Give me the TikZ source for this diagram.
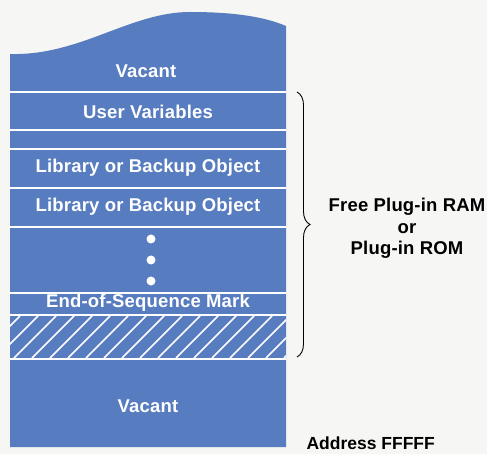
\documentclass[tikz,border=0pt]{standalone}
\usepackage{fontspec}
\setmainfont{Liberation Sans}
\usetikzlibrary{positioning,decorations.pathreplacing}
\definecolor{memblue}{RGB}{88,124,192}
\definecolor{paper}{RGB}{246,246,244}

\begin{document}
\begin{tikzpicture}[x=1pt,y=-1pt,node distance=21.5pt,on grid,
  cell/.style={text=white,font=\bfseries\fontsize{18.5}{22}\selectfont\addfontfeatures{LetterSpace=1}},
  side/.style={text=black,font=\bfseries\fontsize{18.5}{22}\selectfont\addfontfeatures{LetterSpace=1}},
  sep/.style={white,line width=1.8pt}]
\fill[paper] (0,0) rectangle (487,454);
\useasboundingbox (0,0) rectangle (487,454);
% the memory block with its wavy top
\fill[memblue] (10,54) .. controls (80,56) and (130,12) .. (190,12)
  .. controls (235,12) and (265,17) .. (286,26) -- (286,447) -- (10,447) -- cycle;
\begin{scope}
  \clip (10,316) rectangle (286,358);
  \foreach \x in {-40,-22,...,300}
    \draw[sep,line width=1.5pt] (\x,358) -- (\x+42,316);
\end{scope}
\foreach \y in {92,130,149,188,227,293,315,359}
  \draw[sep] (10,\y) -- (286,\y);
\node[cell] (vac_top) at (146,71) {Vacant};
\node[cell] (uservars) at (148,112) {User Variables};
\node[cell] (lib_a) at (148,168) {Library or Backup Object};
\node[cell] (lib_b) at (148,207) {Library or Backup Object};
\foreach \y in {239,260,281}
  \fill[white] (151,\y) circle (4.5pt);
\node[cell] (eos) at (148,303) {End-of-Sequence Mark};
\node[cell] (vac_bot) at (148,406) {Vacant};
% brace and its label
\coordinate (b_top) at (297,92);
\coordinate (b_bot) at (297,357);
\draw[decorate,decoration={brace,amplitude=13pt},line width=0.9pt] (b_top) -- (b_bot);
\node[side] (ram) at (407,207) {Free Plug-in RAM};
\node[side] (or) [below=of ram] {or};
\node[side] (rom) [below=of or] {Plug-in ROM};
\node[font=\bfseries\fontsize{17.5}{20}\selectfont,anchor=west,inner ysep=1pt] (addr) at (303,443) {Address FFFFF};
\end{tikzpicture}
\end{document}
